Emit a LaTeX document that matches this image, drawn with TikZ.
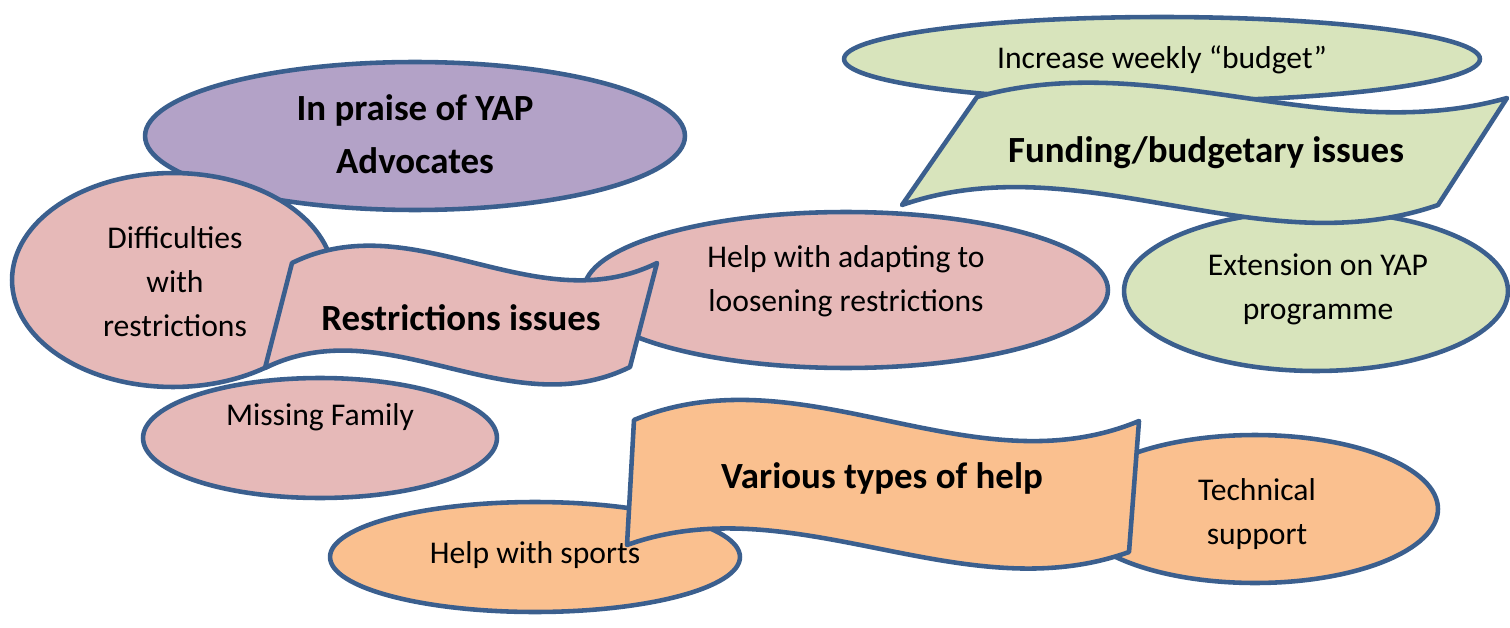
\documentclass[tikz,border=0pt]{standalone}
\usepackage{fontspec}
\setmainfont{Carlito}
\usepackage{tikz}
\usetikzlibrary{shapes.geometric}
\definecolor{edgeblue}{HTML}{3B5F8E}
\definecolor{lilac}{HTML}{B3A2C7}
\definecolor{rose}{HTML}{E6B9B8}
\definecolor{sage}{HTML}{D8E4BC}
\definecolor{apricot}{HTML}{FAC08F}

\begin{document}
\begin{tikzpicture}[x=0.02cm,y=-0.02cm,
    bubble/.style={draw=edgeblue, line width=2.6pt, ellipse, inner sep=0pt},
    banner/.style={draw=edgeblue, line width=2.6pt, line join=round},
    txt/.style={font=\fontsize{18}{25}\selectfont, align=center, text=black},
    head/.style={font=\bfseries\fontsize{21}{30}\selectfont, align=center, text=black}]
  \useasboundingbox (0,0) rectangle (1510,628);

  % restrictions group
  \node[bubble, fill=lilac, minimum width=10.8cm, minimum height=2.96cm] (praise) at (415,136) {};
  \node[head] (praisetxt) at (415,134) {In praise of YAP\\Advocates};
  \node[bubble, fill=rose, minimum width=7.08cm, minimum height=2.4cm] (missing) at (320,438) {};
  \node[bubble, fill=rose, minimum width=6.44cm, minimum height=4.28cm] (diff) at (173,280) {};
  \node[txt] (difftxt) at (175,282) {Difficulties\\with\\restrictions};
  \node[txt] (missingtxt) at (320,417) {Missing Family};
  \node[bubble, fill=rose, minimum width=10.48cm, minimum height=3.12cm] (adapt) at (846,290) {};
  \node[txt] (adapttxt) at (846,281) {Help with adapting to\\loosening restrictions};
  \draw[banner, fill=rose] (292,263) .. controls +(122,-60) and +(-122,60) .. (657,263)
    -- (630,367) .. controls +(-122,60) and +(122,-60) .. (265,368) -- cycle;
  \node[head] (restr) at (461,318) {Restrictions issues};

  % funding group
  \node[bubble, fill=sage, minimum width=12.72cm, minimum height=1.68cm] (weekly) at (1162,59) {};
  \node[txt] (weeklytxt) at (1162,60) {Increase weekly “budget”};
  \node[bubble, fill=sage, minimum width=7.68cm, minimum height=3.2cm] (extension) at (1316,291) {};
  \node[txt] (extensiontxt) at (1318,289) {Extension on YAP\\programme};
  \draw[banner, fill=sage] (977,97) .. controls +(177,-50) and +(-177,50) .. (1507,98)
    -- (1438,205) .. controls +(-179,62) and +(179,-62) .. (902,205) -- cycle;
  \node[head] (funding) at (1206,153) {Funding/budgetary issues};

  % help group
  \node[bubble, fill=apricot, minimum width=8.2cm, minimum height=2.2cm] (sports) at (535,557) {};
  \node[txt] (sportstxt) at (535,555) {Help with sports};
  \node[bubble, fill=apricot, minimum width=7.32cm, minimum height=2.96cm] (tech) at (1255,509) {};
  \node[txt] (techtxt) at (1257,514) {Technical\\support};
  \draw[banner, fill=apricot] (634,420) .. controls +(168,-70) and +(-168,70) .. (1139,421)
    -- (1129,552) .. controls +(-167,60) and +(167,-60) .. (627,545) -- cycle;
  \node[head] (various) at (882,478) {Various types of help};
\end{tikzpicture}
\end{document}
